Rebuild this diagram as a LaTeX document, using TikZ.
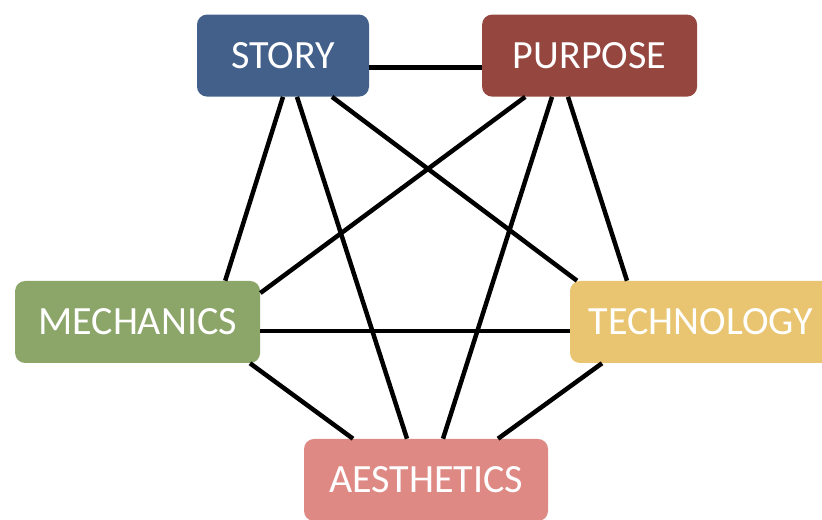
\documentclass[tikz,border=0pt]{standalone}
\usepackage{fontspec}
\setmainfont{Carlito}
\usepackage{tikz}
\usetikzlibrary{calc}

\definecolor{storyblue}{HTML}{43608B}
\definecolor{purposered}{HTML}{94463F}
\definecolor{mechgreen}{HTML}{8CA66A}
\definecolor{techyellow}{HTML}{E9C571}
\definecolor{aestpink}{HTML}{DE8984}

\begin{document}
\begin{tikzpicture}[
		box/.style={rounded corners=0.25cm, text=white, minimum height=2.05cm, inner sep=0pt,
			font=\fontsize{28.5}{34}\selectfont},
		link/.style={line width=3.2pt}]
	\useasboundingbox (0,0) rectangle (20.55,13);

	\node[box, fill=storyblue, minimum width=4.3cm] (story) at (7.075, 11.61) {STORY};
	\node[box, fill=purposered, minimum width=5.375cm] (purpose) at (14.74, 11.61) {PURPOSE};
	\node[box, fill=mechgreen, minimum width=6.125cm] (mech) at (3.44, 4.95) {MECHANICS};
	\node[box, fill=techyellow, minimum width=6.55cm] (tech) at (17.525, 4.95) {TECHNOLOGY};
	\node[box, fill=aestpink, minimum width=6.1cm] (aest) at (10.65, 1.0) {AESTHETICS};

	% every pair of boxes is joined
	\draw[link] ([yshift=-0.3cm]story.east) -- ([yshift=-0.3cm]purpose.west);
	\draw[link] (story.south) -- ([xshift=2.19cm]mech.north);
	\draw[link] ([xshift=0.35cm]story.south) -- ([xshift=-0.475cm]aest.north);
	\draw[link] ([xshift=1.225cm]story.south) -- ([xshift=-3.1cm]tech.north);
	\draw[link] ([xshift=-1.61cm]purpose.south) -- ([yshift=0.725cm]mech.east);
	\draw[link] ([xshift=-0.94cm]purpose.south) -- ([xshift=0.425cm]aest.north);
	\draw[link] ([xshift=-0.54cm]purpose.south) -- ([xshift=-1.85cm]tech.north);
	\draw[link] ([yshift=-0.225cm]mech.east) -- ([yshift=-0.225cm]tech.west);
	\draw[link] ([xshift=2.81cm]mech.south) -- ([xshift=-1.825cm]aest.north);
	\draw[link] ([xshift=-2.475cm]tech.south) -- ([xshift=1.8cm]aest.north);

\end{tikzpicture}
\end{document}
